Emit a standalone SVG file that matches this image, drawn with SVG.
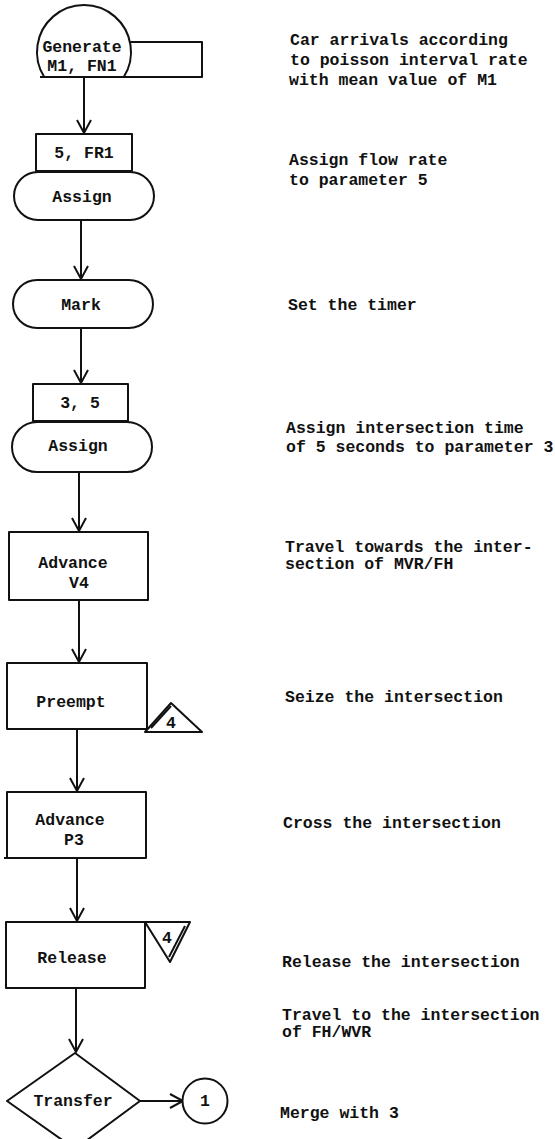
<svg xmlns="http://www.w3.org/2000/svg" width="555" height="1139" viewBox="0 0 555 1139">
<style>
.s{fill:none;stroke:#111;stroke-width:2;stroke-linejoin:round}
.w{fill:#fff;stroke:#111;stroke-width:2;stroke-linejoin:round}
.t{font-family:"Liberation Mono","DejaVu Sans Mono",monospace;font-size:16.5px;font-weight:bold;fill:#111}
.c{text-anchor:middle}
.e{stroke:#111;stroke-width:2;fill:none}
</style>
<defs>
<marker id="v" markerUnits="userSpaceOnUse" markerWidth="20" markerHeight="20" viewBox="-15 -10 20 20" refX="0" refY="0" orient="auto">
<path d="M-13,-7 L0,0 L-13,7" fill="none" stroke="#111" stroke-width="2"/>
</marker>
</defs>
<rect width="555" height="1139" fill="#fff"/>
<g id="connectors">
<line class="e" x1="84" y1="77" x2="84" y2="133" marker-end="url(#v)"/>
<line class="e" x1="81" y1="220" x2="81" y2="279" marker-end="url(#v)"/>
<line class="e" x1="81" y1="328" x2="81" y2="383" marker-end="url(#v)"/>
<line class="e" x1="79" y1="472" x2="79" y2="531" marker-end="url(#v)"/>
<line class="e" x1="79" y1="600" x2="79" y2="662" marker-end="url(#v)"/>
<line class="e" x1="77" y1="729" x2="77" y2="791" marker-end="url(#v)"/>
<line class="e" x1="77" y1="858" x2="77" y2="921" marker-end="url(#v)"/>
<line class="e" x1="76" y1="988" x2="76" y2="1052" marker-end="url(#v)"/>
<line class="e" x1="140" y1="1101" x2="183" y2="1101" marker-end="url(#v)"/>
</g>
<g id="generate">
<path class="w" d="M130,42 H202 V77 H40"/>
<path class="w" d="M44.2,77 A47,47 0 1 1 123.8,77 Z"/>
<text class="t c" x="82" y="52">Generate</text>
<text class="t c" x="82" y="71">M1, FN1</text>
</g>
<g id="assign1">
<rect class="w" x="36" y="134" width="96" height="37"/>
<text class="t c" x="84" y="158">5, FR1</text>
<rect class="w" x="14" y="172" width="140" height="48" rx="24"/>
<text class="t c" x="82" y="202">Assign</text>
</g>
<g id="mark">
<rect class="w" x="13" y="280" width="140" height="48" rx="24"/>
<text class="t c" x="81" y="310">Mark</text>
</g>
<g id="assign2">
<rect class="w" x="33" y="384" width="95" height="37"/>
<text class="t c" x="80" y="408">3, 5</text>
<rect class="w" x="12" y="422" width="140" height="50" rx="25"/>
<text class="t c" x="78" y="451">Assign</text>
</g>
<g id="advance1">
<rect class="w" x="9" y="532" width="139" height="68"/>
<text class="t c" x="73" y="568">Advance</text>
<text class="t c" x="79" y="588">V4</text>
</g>
<g id="preempt">
<rect class="w" x="7" y="663" width="140" height="66"/>
<text class="t c" x="71" y="707">Preempt</text>
<path class="w" d="M145,732 L171,703 L202,732 Z"/>
<path class="s" d="M151,728 L171,706"/>
<text class="t c" x="171" y="728">4</text>
</g>
<g id="advance2">
<rect class="w" x="7" y="792" width="139" height="66"/>
<line class="e" x1="4" y1="858" x2="8" y2="858"/>
<text class="t c" x="70" y="825">Advance</text>
<text class="t c" x="74" y="845">P3</text>
</g>
<g id="release">
<rect class="w" x="6" y="922" width="139" height="66"/>
<text class="t c" x="72" y="963">Release</text>
<path class="w" d="M145,922 L190,922 L170,962 Z"/>
<path class="s" d="M185,926 L169,957"/>
<text class="t c" x="167" y="943">4</text>
</g>
<g id="transfer">
<path class="w" d="M75,1053 L140,1101 L75,1149 L7,1101 Z"/>
<text class="t c" x="73" y="1106">Transfer</text>
</g>
<g id="connector1">
<circle class="w" cx="205" cy="1101" r="22.5"/>
<text class="t c" x="205" y="1106">1</text>
</g>
<g id="notes" class="t">
<text x="290" y="45">Car arrivals according</text>
<text x="290" y="65">to poisson interval rate</text>
<text x="289" y="85">with mean value of M1</text>
<text x="289" y="165">Assign flow rate</text>
<text x="289" y="185">to parameter 5</text>
<text x="288" y="310">Set the timer</text>
<text x="286" y="433">Assign intersection time</text>
<text x="286" y="452">of 5 seconds to parameter 3</text>
<text x="285" y="552">Travel towards the inter-</text>
<text x="285" y="569">section of MVR/FH</text>
<text x="285" y="702">Seize the intersection</text>
<text x="283" y="828">Cross the intersection</text>
<text x="282" y="967">Release the intersection</text>
<text x="282" y="1020">Travel to the intersection</text>
<text x="282" y="1037">of FH/WVR</text>
<text x="280" y="1118">Merge with 3</text>
</g>
</svg>
